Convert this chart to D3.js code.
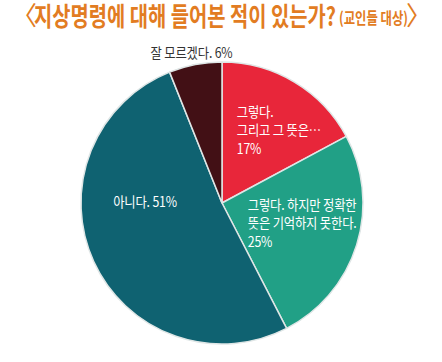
<!DOCTYPE html>
<html>
<head>
<meta charset="utf-8">
<script src="https://cdn.jsdelivr.net/npm/d3@7"></script>
<style>
  html, body { margin: 0; padding: 0; background: #fff; }
  svg { display: block; }
  text { font-family: "Noto Sans CJK KR", "Noto Sans", sans-serif; }
</style>
</head>
<body>
<script>
const width = 442;
const height = 362;

// chart data
const categories = ["그렇다. 그리고 그 뜻은…", "그렇다. 하지만 정확한 뜻은 기억하지 못한다.", "아니다.", "잘 모르겠다."];
const values = [17, 25, 51, 6];
const labelLines = [
  ["그렇다.", "그리고 그 뜻은…", "17%"],
  ["그렇다. 하지만 정확한", "뜻은 기억하지 못한다.", "25%"],
  ["아니다. 51%"],
  ["잘 모르겠다. 6%"],
];
const titleText = "지상명령에 대해 들어본 적이 있는가?";
const subtitleText = "(교인들 대상)";

const colors = ["#e8263a", "#21a086", "#0f6271", "#421015"];
const orange = "#e27c22";

const cx = 222;
const cy = 203;
const radius = 141;

// label placement, relative to the pie centre in radius units
const labelPlace = [
  { x: 0.105, y: -0.645, anchor: "start", fill: "#fff" },
  { x: 0.183, y: 0.012, anchor: "start", fill: "#fff" },
  { x: -0.772, y: -0.01, anchor: "start", fill: "#fff" },
  { x: -0.216, y: -1.065, anchor: "middle", fill: "#333" },
];

const svg = d3.select("body")
    .append("svg")
    .attr("width", width)
    .attr("height", height)
    .attr("viewBox", [0, 0, width, height].join(" "));

// title
const title = svg.append("g")
    .attr("fill", orange);

title.append("text")
    .attr("x", 11)
    .attr("y", 25)
    .attr("font-size", 26)
    .text("〈");

title.append("text")
    .attr("x", 34)
    .attr("y", 26)
    .attr("font-size", 26)
    .attr("font-weight", 700)
    .attr("textLength", 302)
    .attr("lengthAdjust", "spacingAndGlyphs")
    .text(titleText);

title.append("text")
    .attr("x", 339)
    .attr("y", 24)
    .attr("font-size", 16)
    .attr("font-weight", 700)
    .attr("textLength", 69)
    .attr("lengthAdjust", "spacingAndGlyphs")
    .text(subtitleText);

title.append("text")
    .attr("x", 406)
    .attr("y", 25)
    .attr("font-size", 26)
    .text("〉");

// pie
const pie = d3.pie()
    .value((d) => d.value)
    .sort(null);

const arc = d3.arc()
    .innerRadius(0)
    .outerRadius(radius);

const data = categories.map((c, i) => ({ name: c, value: values[i], lines: labelLines[i] }));

const g = svg.append("g")
    .attr("transform", `translate(${cx},${cy})`);

g.selectAll("path")
    .data(pie(data))
    .enter()
    .append("path")
    .attr("d", arc)
    .attr("fill", (d, i) => colors[i])
    .attr("stroke", "#dfe6e6")
    .attr("stroke-width", 1.5)
    .attr("stroke-linejoin", "round");

const labels = g.selectAll(".label")
    .data(data)
    .enter()
    .append("text")
    .attr("class", "label")
    .attr("fill", (d, i) => labelPlace[i].fill)
    .attr("font-size", 14)
    .attr("text-anchor", (d, i) => labelPlace[i].anchor)
    .attr("transform", (d, i) => `translate(${labelPlace[i].x * radius},${labelPlace[i].y * radius}) scale(0.88,1)`);

labels.each(function (d) {
  const t = d3.select(this);
  d.lines.forEach((line, j) => {
    t.append("tspan")
        .attr("x", 0)
        .attr("y", j * 18.5)
        .attr("dy", "0.35em")
        .attr("letter-spacing", -0.2)
        .text(line);
  });
});
</script>
</body>
</html>
